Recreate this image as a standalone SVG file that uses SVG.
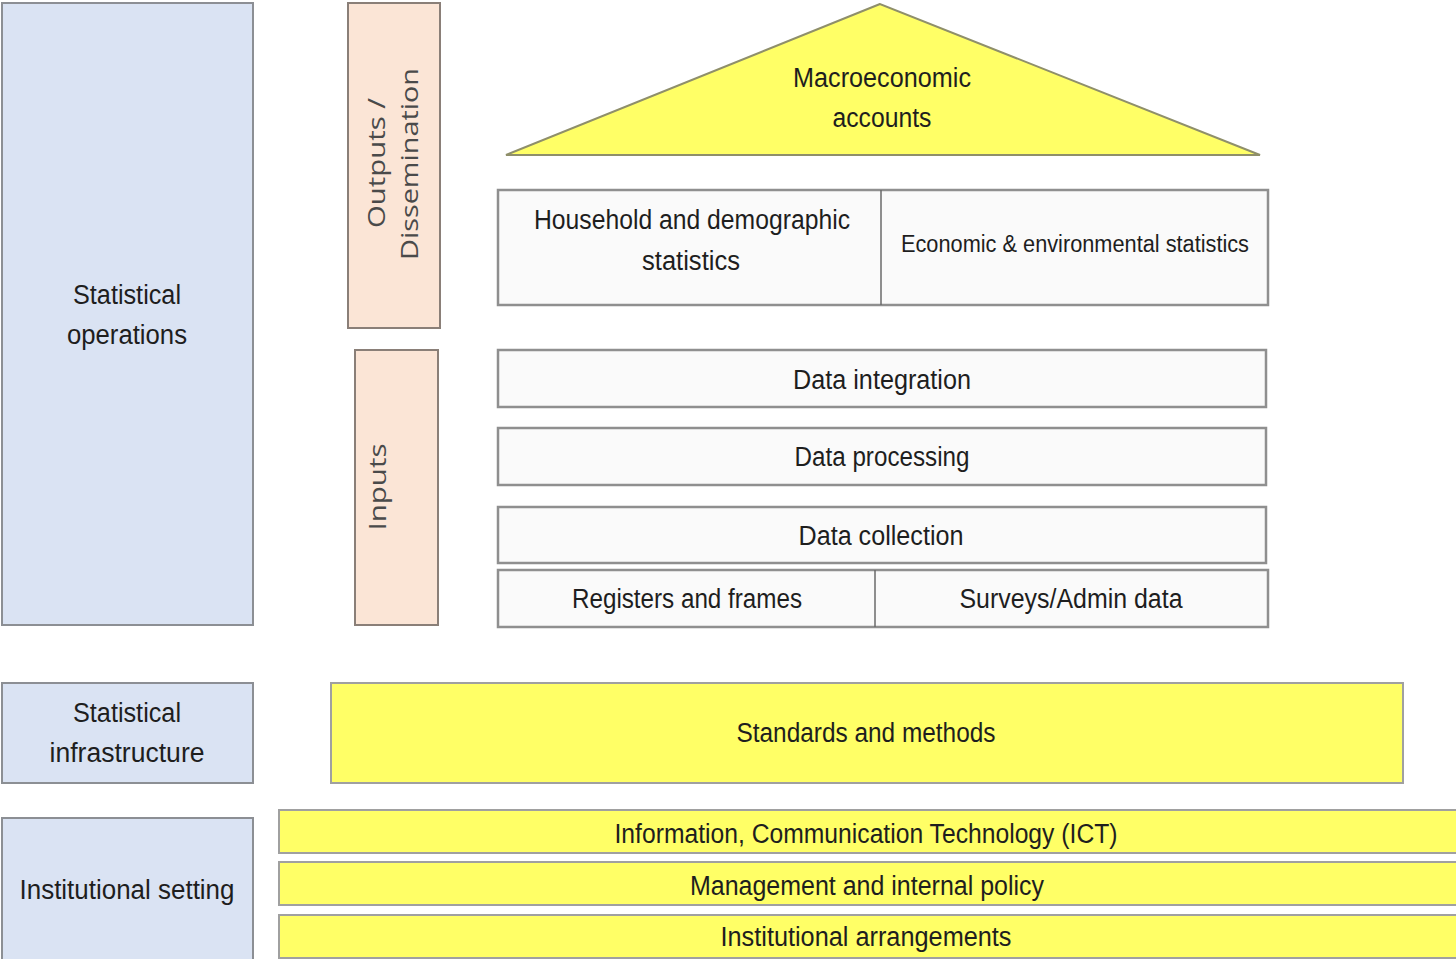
<svg xmlns="http://www.w3.org/2000/svg" width="1456" height="959" viewBox="0 0 1456 959">
  <style>
    .lbl { font-family: "Liberation Sans Narrow", "Liberation Sans", Arial, sans-serif; fill: #1e1e1e; text-anchor: middle; }
    .vert { font-family: "Open Sans", "DejaVu Sans", sans-serif; fill: #4a4a4a; text-anchor: middle; font-size: 24px; }
    .blue { fill: #dae3f3; stroke: #8c8f94; stroke-width: 2; }
    .peach { fill: #fbe5d6; stroke: #8a7f78; stroke-width: 2; }
    .white { fill: #fafafa; stroke: #8f8f8f; stroke-width: 2.5; }
    .yellow { fill: #ffff66; stroke: #a0a0a0; stroke-width: 2; }
    .div { stroke: #6a6a6a; stroke-width: 1.5; }
  </style>
  <rect width="1456" height="959" fill="#ffffff"/>

  <!-- left-hand category column -->
  <g id="statistical-operations">
    <rect class="blue" x="2" y="3" width="251" height="622"/>
    <text class="lbl" x="127" y="304" font-size="27" textLength="108" lengthAdjust="spacingAndGlyphs">Statistical</text>
    <text class="lbl" x="127" y="344" font-size="27" textLength="120" lengthAdjust="spacingAndGlyphs">operations</text>
  </g>
  <g id="statistical-infrastructure">
    <rect class="blue" x="2" y="683" width="251" height="100"/>
    <text class="lbl" x="127" y="722" font-size="27" textLength="108" lengthAdjust="spacingAndGlyphs">Statistical</text>
    <text class="lbl" x="127" y="762" font-size="27" textLength="155" lengthAdjust="spacingAndGlyphs">infrastructure</text>
  </g>
  <g id="institutional-setting">
    <rect class="blue" x="2" y="818" width="251" height="145"/>
    <text class="lbl" x="127" y="899" font-size="27" textLength="215" lengthAdjust="spacingAndGlyphs">Institutional setting</text>
  </g>

  <!-- vertical side labels -->
  <g id="outputs-dissemination">
    <rect class="peach" x="348" y="3" width="92" height="325"/>
    <text class="vert" transform="translate(385 163) rotate(-90)" textLength="130" lengthAdjust="spacingAndGlyphs">Outputs /</text>
    <text class="vert" transform="translate(418 164) rotate(-90)" textLength="192" lengthAdjust="spacingAndGlyphs">Dissemination</text>
  </g>
  <g id="inputs">
    <rect class="peach" x="355" y="350" width="83" height="275"/>
    <text class="vert" transform="translate(386 487) rotate(-90)" textLength="87" lengthAdjust="spacingAndGlyphs">Inputs</text>
  </g>

  <!-- roof -->
  <g id="macroeconomic-accounts">
    <polygon points="880,4 506,155 1260,155" fill="#ffff66" stroke="#8f8f6a" stroke-width="2"/>
    <text class="lbl" x="882" y="87" font-size="27" textLength="178" lengthAdjust="spacingAndGlyphs">Macroeconomic</text>
    <text class="lbl" x="882" y="127" font-size="27" textLength="99" lengthAdjust="spacingAndGlyphs">accounts</text>
  </g>

  <!-- statistics domains -->
  <g id="domain-statistics">
    <rect class="white" x="498" y="190" width="770" height="115"/>
    <line class="div" x1="881" y1="190" x2="881" y2="305"/>
    <text class="lbl" x="692" y="229" font-size="27" textLength="316" lengthAdjust="spacingAndGlyphs">Household and demographic</text>
    <text class="lbl" x="691" y="270" font-size="27" textLength="98" lengthAdjust="spacingAndGlyphs">statistics</text>
    <text class="lbl" x="1075" y="252" font-size="23" textLength="348" lengthAdjust="spacingAndGlyphs">Economic &amp; environmental statistics</text>
  </g>

  <!-- input layers -->
  <g id="data-integration">
    <rect class="white" x="498" y="350" width="768" height="57"/>
    <text class="lbl" x="882" y="389" font-size="27" textLength="178" lengthAdjust="spacingAndGlyphs">Data integration</text>
  </g>
  <g id="data-processing">
    <rect class="white" x="498" y="428" width="768" height="57"/>
    <text class="lbl" x="882" y="466" font-size="27" textLength="175" lengthAdjust="spacingAndGlyphs">Data processing</text>
  </g>
  <g id="data-collection">
    <rect class="white" x="498" y="507" width="768" height="56"/>
    <text class="lbl" x="881" y="545" font-size="27" textLength="165" lengthAdjust="spacingAndGlyphs">Data collection</text>
  </g>
  <g id="sources">
    <rect class="white" x="498" y="570" width="770" height="57"/>
    <line class="div" x1="875" y1="570" x2="875" y2="627"/>
    <text class="lbl" x="687" y="608" font-size="27" textLength="230" lengthAdjust="spacingAndGlyphs">Registers and frames</text>
    <text class="lbl" x="1071" y="608" font-size="27" textLength="223" lengthAdjust="spacingAndGlyphs">Surveys/Admin data</text>
  </g>

  <!-- foundations -->
  <g id="standards-methods">
    <rect class="yellow" x="331" y="683" width="1072" height="100"/>
    <text class="lbl" x="866" y="742" font-size="27" textLength="259" lengthAdjust="spacingAndGlyphs">Standards and methods</text>
  </g>
  <g id="ict">
    <rect class="yellow" x="279" y="810" width="1180" height="43"/>
    <text class="lbl" x="866" y="843" font-size="27" textLength="503" lengthAdjust="spacingAndGlyphs">Information, Communication Technology (ICT)</text>
  </g>
  <g id="management-policy">
    <rect class="yellow" x="279" y="862" width="1180" height="43"/>
    <text class="lbl" x="867" y="895" font-size="27" textLength="354" lengthAdjust="spacingAndGlyphs">Management and internal policy</text>
  </g>
  <g id="institutional-arrangements">
    <rect class="yellow" x="279" y="915" width="1180" height="43"/>
    <text class="lbl" x="866" y="946" font-size="27" textLength="291" lengthAdjust="spacingAndGlyphs">Institutional arrangements</text>
  </g>

  <g id="connectors"/>
</svg>
